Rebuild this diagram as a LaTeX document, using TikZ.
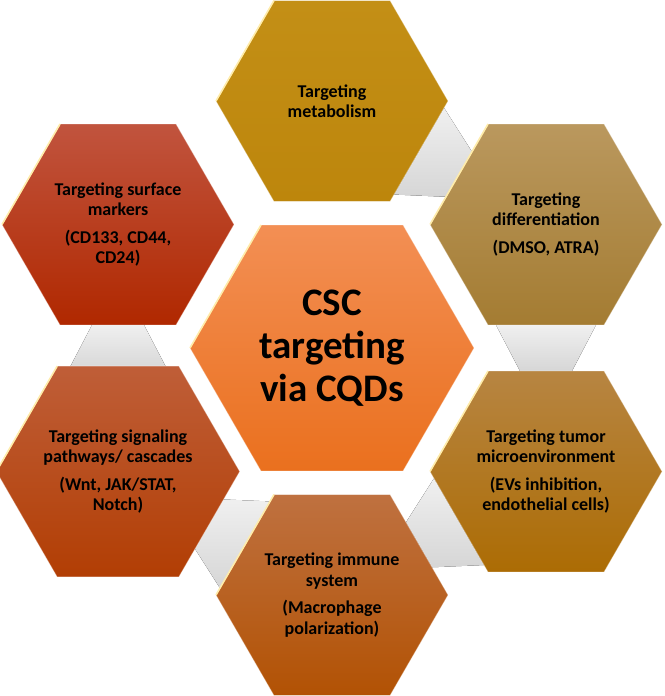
\documentclass[tikz,border=0pt]{standalone}
\usepackage{fontspec}
\setmainfont{Carlito}
\usetikzlibrary{shapes.geometric,calc,backgrounds}

\definecolor{coreTop}{RGB}{243,143,84}
\definecolor{coreBot}{RGB}{234,112,30}
\definecolor{metabTop}{RGB}{195,143,22}
\definecolor{metabBot}{RGB}{189,134,12}
\definecolor{surfTop}{RGB}{193,84,62}
\definecolor{surfBot}{RGB}{176,40,0}
\definecolor{diffTop}{RGB}{186,152,94}
\definecolor{diffBot}{RGB}{164,124,50}
\definecolor{sigTop}{RGB}{191,94,56}
\definecolor{sigBot}{RGB}{178,62,4}
\definecolor{tumTop}{RGB}{183,133,66}
\definecolor{tumBot}{RGB}{172,108,4}
\definecolor{immTop}{RGB}{191,113,64}
\definecolor{immBot}{RGB}{178,82,4}

\begin{document}
\begin{tikzpicture}[x=1pt,y=1pt,
    hex/.style={regular polygon, regular polygon sides=6, minimum size=232pt,
        inner sep=0pt, outer sep=0pt, align=center, draw=white, draw opacity=0.35,
        line width=0.8pt, font=\bfseries\fontsize{18}{20.5}\selectfont},
    corehex/.style={hex, minimum size=284pt, font=\bfseries\fontsize{39}{43}\selectfont},
    link/.style={top color=gray!12, bottom color=gray!32},
    shine/.style={draw={rgb,255:red,255;green,236;blue,170}, line width=1.6pt}]
    \useasboundingbox (0,0) rectangle (664,696);
    % Centre
    \node[corehex, top color=coreTop, bottom color=coreBot] (core) at (332,348)
        {CSC\\targeting\\via CQDs};
    % Outer ring
    \node[hex, top color=metabTop, bottom color=metabBot] (metab) at (332,595)
        {Targeting\\metabolism};
    \node[hex, top color=diffTop, bottom color=diffBot] (diff) at (546,471.5)
        {Targeting\\differentiation\\[7pt](DMSO, ATRA)};
    \node[hex, top color=tumTop, bottom color=tumBot] (tumor) at (546,224.5)
        {Targeting tumor\\microenvironment\\[7pt](EVs inhibition,\\endothelial cells)};
    \node[hex, top color=immTop, bottom color=immBot] (immune) at (332,101)
        {Targeting immune\\system\\[7pt](Macrophage\\polarization)};
    \node[hex, top color=sigTop, bottom color=sigBot] (signal) at (118,224.5)
        {Targeting signaling\\pathways/ cascades\\[7pt](Wnt, JAK/STAT,\\Notch)};
    \node[hex, top color=surfTop, bottom color=surfBot] (surface) at (118,471.5)
        {Targeting surface\\markers\\[7pt](CD133, CD44,\\CD24)};
    % Links between neighbours, wide end at the first one
    \begin{pgfonlayer}{background}
        \foreach \a/\b in {metab/diff, diff/tumor, tumor/immune, immune/signal, signal/surface}
            \fill[link] ($(\a)!100.5pt!(\b)!50pt!90:(\b)$)
                -- ($(\b)!100.5pt!(\a)!26pt!-90:(\a)$)
                -- ($(\b)!100.5pt!(\a)!26pt!90:(\a)$)
                -- ($(\a)!100.5pt!(\b)!50pt!-90:(\b)$) -- cycle;
    \end{pgfonlayer}
    % Shine on the lower left edges
    \foreach \h in {core, metab, diff, tumor, immune, signal, surface}
        \draw[shine] (\h.corner 2) -- (\h.corner 3);
\end{tikzpicture}
\end{document}
